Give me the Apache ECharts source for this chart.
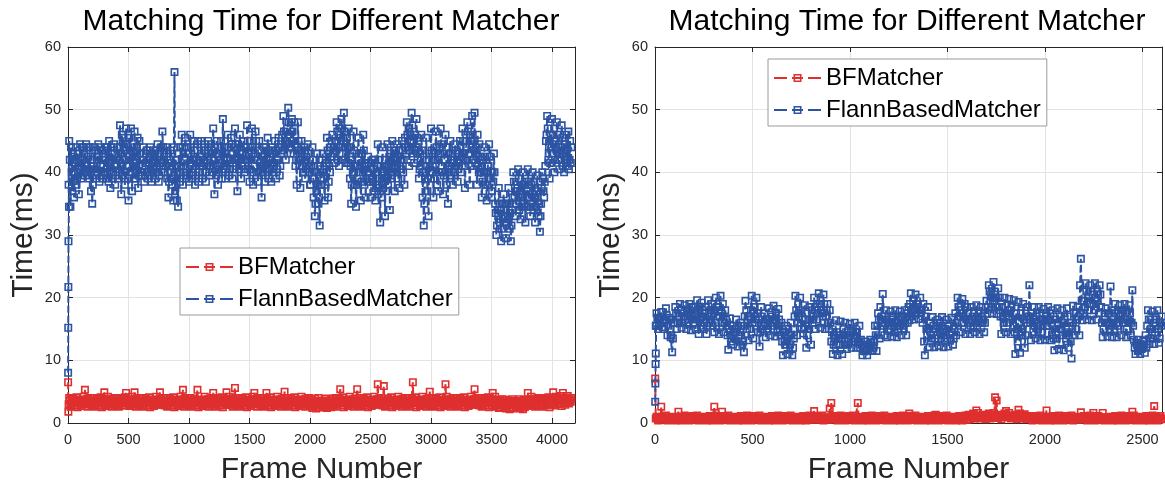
<!DOCTYPE html>
<html>
<head>
<meta charset="utf-8">
<script src="https://cdn.jsdelivr.net/npm/echarts@6/dist/echarts.min.js"></script>
<style>
  html, body { margin: 0; padding: 0; background: #fff; }
  #main { width: 1165px; height: 487px; }
</style>
</head>
<body>
<div id="main"></div>
<script>
// sample spacing (frames) used when reading the dense traces off the figure;
// the "Mid" lists are read half a step later than the main lists
const LEFT_STEP = 10
const RIGHT_STEP = 8

// left panel: start-up frames, then one value every LEFT_STEP frames
const leftStartFrames = [1, 2, 3, 4, 8]
const leftFlannStart = [8.0, 15.2, 21.7, 29.0, 34.5]
const leftBFStartFrames = [1, 3]
const leftBFStart = [6.5, 1.8]

// one row = 100 frames
const leftFlann = [
  45, 34.5, 40, 43, 36, 41, 38, 43, 36.5, 44.5,
  39, 42, 44, 40, 44.5, 39.5, 42.5, 44, 37, 35,
  41, 44, 39, 42.5, 44.5, 38.5, 41, 43.5, 39, 42,
  44, 39, 41.5, 45, 37.5, 40, 43, 44.5, 38, 41,
  44, 39, 47.5, 36.5, 42, 45.5, 38, 47, 41, 35.5,
  43, 47, 37, 41, 46.5, 39, 44, 37.5, 45, 40,
  42, 44, 38.5, 41, 43.5, 39, 42, 44, 38.5, 41.5,
  43.5, 39, 41, 44.5, 38.5, 42, 44, 46.5, 41, 40,
  44, 39, 36, 41, 43.5, 38, 35.5, 56, 42, 35.5,
  34.5, 40, 44, 46, 38, 42, 45.5, 39, 43, 38.5,
  46, 39, 42, 45, 38, 41, 44.5, 38.5, 42.5, 45,
  39, 42, 44.5, 38.5, 41, 45, 39.5, 43, 40, 47,
  36.5, 41, 45, 38, 42, 44, 39, 48.5, 41, 39,
  43, 46, 39.5, 42, 45.5, 39, 44, 47, 41, 37,
  42, 46, 39, 43, 45, 40, 44, 47.5, 41, 38.5,
  44, 47, 38, 42, 46.5, 40, 38.5, 45, 41, 36,
  40, 44, 38.5, 42, 45.5, 39, 43, 38.5, 44, 41,
  45, 39, 42, 45.5, 39.5, 43, 46, 49, 44, 42,
  47, 50.3, 44, 43, 48.5, 45, 48, 41, 38, 48,
  42, 37.5, 45, 41, 44, 39, 42.5, 44.5, 40, 38,
  41, 44, 36, 33, 40, 43, 35, 31.5, 38, 42,
  39, 35.5, 42, 45.5, 36, 41, 44, 45, 43, 41.5,
  45, 48, 42, 41, 46, 48.5, 44, 49.5, 42, 41.5,
  44, 47, 39, 35, 42, 46.5, 38, 34.5, 41, 45.5,
  40, 35.5, 43, 46, 38, 36, 41, 42.5, 38.5, 36,
  39, 42, 37, 35.5, 40, 44.5, 38, 32, 36, 44,
  40, 33, 37, 44.5, 41, 34, 39, 45, 42, 37,
  41, 44.5, 39, 37.5, 42, 45, 40, 38, 44, 48,
  44, 41, 46, 49.5, 43, 41.5, 46, 48.5, 42, 39,
  43, 46, 36, 31.5, 39, 45.5, 37, 33, 41, 47,
  40, 36, 43, 46.5, 38, 37, 44, 47, 41, 36.5,
  42, 46, 38, 35, 41, 45, 39.5, 38, 42, 44.5,
  41, 38.5, 43, 45, 40, 47, 42, 37.5, 44, 48,
  43, 38, 45, 49, 42, 49.5, 44, 38, 41, 44.5,
  40, 36, 42, 44, 38, 35.5, 41, 44.5, 39, 36,
  40, 43, 35, 30, 34, 37.5, 32, 29, 35, 36.5,
  32, 29.5, 35, 37.5, 31, 29, 34, 40, 36, 33,
  37, 40.5, 34, 32.5, 38, 40, 35, 32, 37, 40.5,
  36, 33, 38, 40, 34, 32, 37, 39.5, 33, 30.5,
  35, 40, 37, 38.5, 45, 49, 42, 39, 46, 48.5,
  43, 40, 45, 48, 42, 40.5, 44, 47.5, 41, 40,
  43, 46, 41, 40.5, 45, 44
]

const leftFlannMid = [
  38, 42, 44, 37, 42.5, 39, 44, 39, 42, 40,
  41.5, 44, 39.5, 43, 40.5, 44, 40, 39, 42, 41,
  38, 40.5, 43.5, 39.5, 40, 42.5, 44, 39.5, 42, 40,
  40, 43.5, 44, 38.5, 42, 44, 39, 40, 43, 39.5,
  41, 42.5, 44, 41, 46, 39.5, 44, 40, 44.5, 39,
  45.5, 40, 43.5, 44, 39, 42.5, 41, 45.5, 39.5, 43,
  39.5, 41, 43, 39.5, 41.5, 43.5, 40, 39.5, 42.5, 43,
  40, 42.5, 43.5, 40, 43, 39.5, 41.5, 42, 44, 42.5,
  41, 43, 40, 38.5, 42, 41.5, 39, 44, 37, 41,
  40, 43, 38.5, 41, 44, 40, 42, 44, 39.5, 43,
  41, 44, 40.5, 42, 43.5, 39.5, 42, 45, 40, 41.5,
  43, 40, 41.5, 43.5, 40, 42.5, 44, 41, 44.5, 43,
  42, 44, 39.5, 43, 40, 41.5, 45, 43, 40.5, 44,
  41, 42, 44, 40.5, 42, 44.5, 40.5, 42, 44.5, 42,
  44.5, 40.5, 43, 41, 42, 44, 40.5, 42, 45, 43,
  40.5, 42.5, 44, 40, 43, 45, 42, 40, 43.5, 40,
  42.5, 40.5, 43, 44, 40.5, 43.5, 40.5, 42, 40.5, 43.5,
  41.5, 43.5, 40.5, 42, 44, 41, 44, 43.5, 46.5, 45,
  44.5, 46, 48, 45.5, 44, 46.5, 43, 44.5, 42, 44,
  45, 41, 42, 43.5, 40, 42, 40.5, 41, 43, 41,
  38, 40, 42, 39, 35, 37, 41, 36, 40.5, 38,
  43, 40, 38, 41.5, 43.5, 38.5, 40, 42.5, 46, 44,
  43.5, 45, 46.5, 44, 43, 45, 47, 45.5, 46.5, 44,
  45.5, 41.5, 44, 41, 38, 40, 43.5, 41, 38, 42,
  43, 41, 38.5, 40, 43.5, 41, 39, 40, 41.5, 39,
  41.5, 39, 40.5, 42, 37.5, 41, 42, 38, 41, 39.5,
  37.5, 41, 42, 39, 38, 42.5, 43, 39.5, 40, 43.5,
  43, 40, 42, 43.5, 40.5, 42, 43.5, 42, 45.5, 43,
  46, 47, 43.5, 45, 47.5, 45, 43.5, 44, 45.5, 44,
  40.5, 41, 43.5, 40, 35, 41, 42, 39, 43, 40,
  43.5, 41, 39, 42, 44, 42, 40, 43, 44.5, 40,
  39.5, 42, 44, 40, 43, 41, 43, 41.5, 40, 41,
  43.5, 42, 40.5, 42, 44, 42.5, 45, 43, 41, 45,
  46.5, 43, 41, 44.5, 46, 45, 41.5, 43, 46, 40,
  42.5, 40, 38.5, 40, 42.5, 40, 38, 41, 42.5, 40,
  37, 38.5, 40, 33.5, 31.5, 33, 35, 34, 31, 33,
  35, 33, 31.5, 33, 35, 33.5, 31.5, 36, 38.5, 37,
  35, 37.5, 39, 36, 34.5, 36.5, 38, 38.5, 34.5, 36,
  38.5, 36, 34.5, 36.5, 38.5, 36, 34.5, 36, 37.5, 35,
  33, 37.5, 39, 36, 41, 46, 47, 44, 41.5, 44,
  46, 44.5, 42, 44, 46, 44, 42, 43.5, 45.5, 43,
  44.5, 42.5, 44, 46.5, 42, 41.5
]

const leftBF = [
  4.0, 2.6, 3.3, 3.9, 2.8, 3.5, 4.1, 2.5, 3.2, 3.7,
  2.7, 3.6, 4.2, 5.3, 3.4, 2.6, 3.9, 3.1, 4.0, 2.8,
  4.0, 2.6, 3.3, 3.9, 2.8, 3.5, 4.1, 2.5, 3.2, 4.9,
  2.7, 3.6, 4.2, 2.9, 3.4, 2.6, 3.9, 3.1, 4.0, 2.8,
  4.0, 2.6, 3.3, 3.9, 2.8, 3.5, 4.1, 4.8, 3.2, 3.7,
  2.7, 3.6, 4.2, 2.9, 4.9, 2.6, 3.9, 3.1, 4.0, 2.8,
  4.0, 2.6, 3.3, 3.9, 2.8, 3.5, 4.1, 2.5, 3.2, 3.7,
  2.7, 3.6, 4.2, 2.9, 3.4, 4.9, 3.9, 3.1, 4.0, 2.8,
  4.0, 2.6, 3.3, 3.9, 2.8, 3.5, 4.1, 2.5, 3.2, 3.7,
  2.7, 3.6, 4.2, 2.9, 5.3, 2.6, 3.9, 3.1, 4.0, 2.8,
  4.0, 2.6, 3.3, 3.9, 2.8, 3.5, 5.3, 2.5, 3.2, 3.7,
  2.7, 3.6, 4.2, 2.9, 3.4, 2.6, 3.9, 3.1, 4.0, 4.8,
  4.0, 2.6, 3.3, 3.9, 2.8, 3.5, 4.1, 2.5, 3.2, 3.7,
  4.9, 3.6, 4.2, 2.9, 3.4, 2.6, 3.9, 5.6, 4.0, 2.8,
  4.0, 2.6, 3.3, 3.9, 2.8, 3.5, 4.1, 2.5, 3.2, 3.7,
  2.7, 3.6, 4.2, 4.8, 3.4, 2.6, 3.9, 3.1, 4.0, 2.8,
  4.0, 2.6, 3.3, 4.8, 2.8, 3.5, 4.1, 2.5, 3.2, 3.7,
  2.7, 3.6, 4.2, 2.9, 3.4, 2.6, 3.9, 3.1, 5.0, 2.8,
  4.0, 2.6, 3.3, 3.9, 2.8, 3.5, 4.1, 2.5, 3.2, 3.7,
  2.7, 3.6, 4.2, 2.9, 3.4, 2.6, 3.9, 3.1, 4.0, 2.8,
  3.8, 2.4, 3.1, 3.9, 2.3, 3.4, 4.0, 2.5, 3.0, 3.6,
  2.5, 3.5, 3.9, 2.4, 3.2, 2.6, 3.8, 3.0, 3.9, 2.7,
  4.0, 2.6, 3.3, 3.9, 5.4, 3.5, 4.1, 2.5, 3.2, 3.7,
  2.7, 3.6, 4.2, 2.9, 3.4, 2.6, 3.9, 3.1, 5.4, 2.8,
  4.0, 2.6, 3.3, 3.9, 2.8, 3.5, 4.1, 2.5, 3.2, 3.7,
  2.7, 3.6, 4.2, 2.9, 3.4, 6.2, 3.9, 3.1, 4.0, 2.8,
  5.9, 2.6, 3.3, 3.9, 2.8, 3.5, 4.1, 2.5, 3.2, 3.7,
  2.7, 3.6, 4.2, 2.9, 3.4, 2.6, 3.9, 3.1, 4.0, 2.8,
  4.0, 2.6, 3.3, 3.9, 6.5, 3.5, 4.1, 2.5, 3.2, 3.7,
  2.7, 3.6, 4.2, 2.9, 3.4, 2.6, 3.9, 3.1, 5.0, 2.8,
  4.0, 2.6, 3.3, 3.9, 2.8, 3.5, 4.1, 2.5, 3.2, 3.7,
  2.7, 6.2, 4.2, 2.9, 3.4, 2.6, 3.9, 3.1, 4.0, 2.8,
  4.0, 2.6, 3.3, 3.9, 2.8, 3.5, 4.1, 2.5, 3.2, 3.7,
  2.7, 3.6, 4.2, 2.9, 3.4, 5.4, 3.9, 3.1, 4.0, 2.8,
  4.0, 2.6, 3.3, 3.9, 2.8, 3.5, 4.1, 2.5, 3.2, 3.7,
  4.8, 3.6, 4.2, 2.9, 3.2, 2.4, 3.7, 2.9, 3.8, 2.5,
  3.7, 2.3, 3.0, 3.6, 2.2, 3.3, 3.8, 2.3, 2.9, 3.5,
  2.4, 3.4, 3.8, 2.3, 3.1, 2.2, 3.7, 2.8, 3.6, 4.8,
  2.7, 3.6, 4.2, 2.9, 3.4, 2.6, 3.9, 3.1, 4.0, 2.8,
  4.0, 2.6, 3.3, 3.9, 2.8, 3.5, 4.1, 2.5, 3.2, 3.7,
  4.9, 2.8, 3.5, 4.2, 3.0, 3.7, 4.3, 2.7, 4.8, 3.9,
  2.9, 3.8, 4.3, 3.1, 3.6, 4.0
]

const leftBFMid = [
  3.0, 3.6, 2.9, 3.4, 3.8, 3.1, 3.5, 2.8, 3.7, 3.2,
  3.4, 2.9, 3.7, 3.2, 3.0, 3.8, 3.3, 3.6, 2.9, 3.5,
  3.0, 3.6, 2.9, 3.4, 3.8, 3.1, 3.5, 2.8, 3.7, 3.2,
  3.4, 2.9, 3.7, 3.2, 3.0, 3.8, 3.3, 3.6, 2.9, 3.5,
  3.0, 3.6, 2.9, 3.4, 3.8, 3.1, 3.5, 2.8, 3.7, 3.2,
  3.4, 2.9, 3.7, 3.2, 3.0, 3.8, 3.3, 3.6, 2.9, 3.5,
  3.0, 3.6, 2.9, 3.4, 3.8, 3.1, 3.5, 2.8, 3.7, 3.2,
  3.4, 2.9, 3.7, 3.2, 3.0, 3.8, 3.3, 3.6, 2.9, 3.5,
  3.0, 3.6, 2.9, 3.4, 3.8, 3.1, 3.5, 2.8, 3.7, 3.2,
  3.4, 2.9, 3.7, 3.2, 3.0, 3.8, 3.3, 3.6, 2.9, 3.5,
  3.0, 3.6, 2.9, 3.4, 3.8, 3.1, 3.5, 2.8, 3.7, 3.2,
  3.4, 2.9, 3.7, 3.2, 3.0, 3.8, 3.3, 3.6, 2.9, 3.5,
  3.0, 3.6, 2.9, 3.4, 3.8, 3.1, 3.5, 2.8, 3.7, 3.2,
  3.4, 2.9, 3.7, 3.2, 3.0, 3.8, 3.3, 3.6, 2.9, 3.5,
  3.0, 3.6, 2.9, 3.4, 3.8, 3.1, 3.5, 2.8, 3.7, 3.2,
  3.4, 2.9, 3.7, 3.2, 3.0, 3.8, 3.3, 3.6, 2.9, 3.5,
  3.0, 3.6, 2.9, 3.4, 3.8, 3.1, 3.5, 2.8, 3.7, 3.2,
  3.4, 2.9, 3.7, 3.2, 3.0, 3.8, 3.3, 3.6, 2.9, 3.5,
  3.0, 3.6, 2.9, 3.4, 3.8, 3.1, 3.5, 2.8, 3.7, 3.2,
  3.4, 2.9, 3.7, 3.2, 3.0, 3.8, 3.3, 3.6, 2.9, 3.5,
  2.8, 3.3, 2.6, 3.1, 3.5, 2.8, 3.2, 2.5, 3.4, 2.9,
  2.8, 3.3, 2.6, 3.1, 3.5, 2.8, 3.2, 2.5, 3.4, 2.9,
  3.0, 3.6, 2.9, 3.4, 3.8, 3.1, 3.5, 2.8, 3.7, 3.2,
  3.4, 2.9, 3.7, 3.2, 3.0, 3.8, 3.3, 3.6, 2.9, 3.5,
  3.0, 3.6, 2.9, 3.4, 3.8, 3.1, 3.5, 2.8, 3.7, 3.2,
  3.4, 2.9, 3.7, 3.2, 3.0, 3.8, 3.3, 3.6, 2.9, 3.5,
  3.0, 3.6, 2.9, 3.4, 3.8, 3.1, 3.5, 2.8, 3.7, 3.2,
  3.4, 2.9, 3.7, 3.2, 3.0, 3.8, 3.3, 3.6, 2.9, 3.5,
  3.0, 3.6, 2.9, 3.4, 3.8, 3.1, 3.5, 2.8, 3.7, 3.2,
  3.4, 2.9, 3.7, 3.2, 3.0, 3.8, 3.3, 3.6, 2.9, 3.5,
  3.0, 3.6, 2.9, 3.4, 3.8, 3.1, 3.5, 2.8, 3.7, 3.2,
  3.4, 2.9, 3.7, 3.2, 3.0, 3.8, 3.3, 3.6, 2.9, 3.5,
  3.0, 3.6, 2.9, 3.4, 3.8, 3.1, 3.5, 2.8, 3.7, 3.2,
  3.4, 2.9, 3.7, 3.2, 3.0, 3.8, 3.3, 3.6, 2.9, 3.5,
  3.0, 3.6, 2.9, 3.4, 3.8, 3.1, 3.5, 2.8, 3.7, 3.2,
  2.8, 3.3, 2.6, 3.1, 3.5, 2.8, 3.2, 2.5, 3.4, 2.9,
  2.8, 3.3, 2.6, 3.1, 3.5, 2.8, 3.2, 2.5, 3.4, 2.9,
  2.8, 3.3, 2.6, 3.1, 3.5, 2.8, 3.2, 2.5, 3.4, 2.9,
  3.0, 3.6, 2.9, 3.4, 3.8, 3.1, 3.5, 2.8, 3.7, 3.2,
  3.4, 2.9, 3.7, 3.2, 3.0, 3.8, 3.3, 3.6, 2.9, 3.5,
  3.4, 3.9, 3.2, 3.7, 4.0, 3.4, 3.8, 3.1, 3.9, 3.5,
  3.4, 3.9, 3.2, 3.7, 4.0, 3.4
]

// right panel: start-up frames, then one value every RIGHT_STEP frames
const rightStartFrames = [1, 2, 3, 4, 6]
const rightFlannStart = [3.4, 6.3, 9.4, 11.1, 15.5]
const rightBFStartFrames = [1]
const rightBFStart = [7.1]

// one row = 80 frames
const rightFlann = [
  17.5, 15, 16.5, 17.7, 15.3, 16, 18.3, 14, 16.8, 13.7,
  11.3, 16, 18.5, 15, 17, 19, 15.2, 17.5, 18.8, 15,
  16.5, 19, 14.8, 17, 18.5, 15, 19.6, 14.2, 16.8, 19.2,
  15, 17.5, 14.2, 19.6, 16, 18, 15.5, 14.5, 20, 17,
  14.2, 20.3, 16, 14.5, 18, 15.5, 11.7, 16.7, 13, 12.5,
  15, 16.5, 12.2, 14, 16, 12.5, 11.3, 19.5, 15, 13.2,
  17, 20.3, 13.5, 16, 20, 14.5, 12.2, 18.5, 15, 17.5,
  13.7, 16.5, 18.3, 14, 17, 18.7, 13.8, 16, 18.2, 14.5,
  16, 10.8, 13, 15.5, 11, 14, 16, 10.8, 13.5, 20.3,
  14, 17, 20, 15, 14.3, 18.8, 12, 15.5, 18.5, 12.5,
  16, 20, 15, 18, 20.7, 15.2, 17.5, 20.5, 15, 18,
  16, 18, 13, 11, 14, 16.4, 10.8, 13.5, 16.2, 11,
  14, 16, 11.8, 13.5, 15.8, 12, 14.5, 16, 12, 13,
  15.5, 13.3, 10.8, 12, 13, 10.8, 12.5, 13.3, 11.5, 12,
  15.5, 11.5, 17.5, 13.5, 16, 20.6, 14, 18, 13.7, 16,
  17.8, 13.8, 15.5, 18, 13.7, 16.5, 17.8, 14, 15.5, 18,
  14, 16, 16.4, 20.7, 18, 16.5, 20.5, 18.5, 16.6, 20,
  18, 19, 10.8, 15, 18.5, 12.1, 14, 16.9, 12.1, 15,
  16.5, 12.3, 14.5, 16.9, 12.1, 15, 16.5, 12.2, 14, 16.8,
  12.5, 15, 14, 20, 17, 14.5, 19.8, 16, 14.2, 18.5,
  16, 14.2, 18.5, 15.5, 14.5, 18.8, 16.5, 14.2, 18.5, 16,
  14.5, 18.5, 17.4, 22, 19.5, 17.5, 22.5, 20, 17.4, 21.5,
  20, 14.2, 17, 20, 14.5, 18, 19.8, 14.2, 16.5, 19.6,
  11, 15, 19.3, 11.2, 14.5, 19, 12, 16.5, 18.5, 22,
  13.2, 16, 18.5, 13.5, 15.5, 18.5, 13.2, 16.5, 18.2, 13.3,
  15.5, 18.5, 13.2, 16, 18, 11.6, 14.5, 18.3, 11.8, 15,
  18, 11.6, 14.5, 18.3, 12, 16, 10.3, 18.7, 14, 16.5,
  18.5, 14, 26.2, 16.4, 19.5, 22.3, 16.5, 20, 22, 16.4,
  19, 22.3, 16.5, 20.5, 22, 18.5, 13.7, 16.5, 18.3, 13.8,
  15.5, 21.8, 13.7, 16.5, 19, 13.7, 17, 18.8, 14, 16,
  19, 13.7, 16.5, 18.8, 14, 21.2, 13.3, 11, 12.5, 13.3,
  11, 12.5, 13.2, 11.2, 12, 18, 12.6, 15, 17.8, 12.6,
  15.5, 18, 12.8, 16, 17
]

const rightFlannMid = [
  15.5, 16.8, 15.5, 16, 17, 15, 16.5, 17.2, 15.5, 16.5,
  14, 13.5, 16, 17.5, 16, 17, 18, 16, 17, 16.5,
  18, 16, 17.5, 18.5, 16, 17.5, 16.5, 18, 18.5, 15.5,
  18, 16, 18.5, 15.5, 17.5, 16.5, 19, 18, 16, 18.5,
  18.5, 17, 18, 19, 16, 16.5, 14, 15, 14, 15.5,
  13.5, 14.5, 15.5, 13.5, 14.5, 15.5, 13, 17, 18, 16.5,
  15, 18, 16, 18.5, 16.5, 17.5, 16.5, 14.5, 17, 15.5,
  16, 15, 15.5, 16.5, 15.5, 16, 16.5, 17.5, 15, 16.5,
  14, 13, 14.5, 12.5, 13.5, 15, 12.5, 14, 12, 17,
  18, 16, 17.5, 18, 16.5, 15, 16.5, 14, 15, 16.5,
  18, 17, 18.5, 16.5, 17.5, 19, 18, 17, 19, 17,
  19, 15, 16, 14.5, 12.5, 13.5, 14.5, 12.5, 14, 13.5,
  12.5, 13.5, 14.5, 12.5, 14, 14.5, 13, 13.5, 14.5, 14.5,
  13, 12, 12.5, 11.5, 12, 12.5, 11.5, 12, 12.8, 11.5,
  13, 14, 15.5, 16.5, 18.5, 17, 15.5, 16, 16.5, 15,
  15.5, 16.5, 17, 14.5, 16, 15, 15.5, 16.5, 17, 15,
  16, 17.5, 18.5, 19, 17, 19.5, 18, 17.5, 19, 18,
  17.5, 16, 13, 17, 14, 15, 16, 13.5, 15.5, 13.5,
  14, 15.5, 16, 13.5, 14.5, 13.5, 14, 15.5, 15.5, 13.5,
  14.5, 13.5, 17.5, 16, 18.5, 18, 16, 17.5, 19, 16.5,
  17.5, 16.5, 15.5, 17, 17.5, 16, 15.5, 17.5, 16, 17,
  16.5, 16, 19.5, 18.5, 21, 20.5, 19, 21, 20, 18.5,
  18.5, 17, 18.5, 16, 17.5, 16, 17, 18, 18.5, 15.5,
  14.5, 17.5, 13, 16, 17.5, 14, 16.5, 14, 16, 17,
  16, 17.5, 14.5, 16.5, 17, 15, 17.5, 14.5, 15.5, 16.5,
  17, 15.5, 16.5, 17.5, 14, 13.5, 16.5, 13.5, 16, 17,
  15, 14, 16.5, 13.5, 17, 14, 13, 15.5, 17.5, 15,
  16.5, 17, 22, 19.5, 17.5, 18.5, 21, 18, 19, 21,
  20.5, 18, 19, 21, 17.5, 20.5, 16, 15, 17, 16,
  17.5, 15, 18, 16, 15, 17.5, 15.5, 16, 17.5, 18,
  16.5, 17.5, 15, 16, 17.5, 16, 15.5, 12, 12.8, 11.5,
  12.2, 11.8, 12, 12.5, 14, 15.5, 16.5, 13.5, 14.5, 16,
  14, 16.5, 15, 13.5, 15.5
]

const rightBF = [
  1.0, 0.4, 0.7, 2.6, 0.5, 0.8, 1.2, 0.4, 0.9, 0.6,
  0.5, 1.0, 0.4, 0.8, 1.8, 0.6, 0.4, 0.9, 1.2, 0.5,
  1.0, 0.4, 0.7, 1.1, 0.5, 0.8, 1.2, 0.4, 0.9, 0.6,
  0.5, 1.0, 0.4, 0.8, 1.1, 0.6, 0.4, 2.6, 1.2, 0.5,
  1.0, 0.4, 1.8, 1.1, 0.5, 0.8, 1.2, 0.4, 0.9, 0.6,
  0.5, 1.0, 0.4, 0.8, 1.1, 0.6, 0.4, 0.9, 1.2, 0.5,
  1.0, 0.4, 0.7, 1.1, 0.5, 0.8, 1.2, 0.4, 0.9, 0.6,
  0.5, 1.0, 0.4, 0.8, 1.1, 0.6, 0.4, 0.9, 1.2, 0.5,
  1.0, 0.4, 0.7, 1.1, 0.5, 0.8, 1.2, 0.4, 0.9, 0.6,
  0.5, 1.0, 0.4, 0.8, 1.1, 0.6, 0.4, 0.9, 1.2, 0.5,
  1.0, 1.9, 0.7, 1.1, 0.5, 0.8, 1.2, 0.4, 0.9, 0.6,
  0.5, 2.3, 3.2, 0.8, 1.1, 0.6, 0.4, 0.9, 1.2, 0.5,
  1.0, 0.4, 0.7, 1.1, 0.5, 0.8, 1.2, 0.4, 0.9, 3.2,
  0.5, 1.0, 0.4, 0.8, 1.1, 0.6, 0.4, 0.9, 1.2, 0.5,
  1.0, 0.4, 0.7, 1.1, 0.5, 0.8, 1.2, 0.4, 0.9, 0.6,
  0.5, 1.0, 0.4, 0.8, 1.1, 0.6, 0.4, 0.9, 1.2, 0.5,
  1.0, 0.4, 1.5, 1.1, 0.5, 0.8, 1.2, 0.4, 0.9, 0.6,
  0.5, 1.0, 0.4, 0.8, 1.1, 0.6, 0.4, 0.9, 1.2, 1.3,
  1.0, 0.4, 0.7, 1.1, 0.5, 0.8, 1.2, 0.4, 0.9, 0.6,
  0.5, 1.0, 0.4, 0.8, 1.1, 0.6, 0.4, 0.9, 1.2, 0.5,
  1.3, 0.6, 1.0, 1.5, 0.7, 2.0, 1.6, 0.7, 1.1, 0.8,
  1.3, 0.6, 1.0, 1.5, 0.7, 1.2, 1.6, 4.1, 3.6, 0.8,
  1.3, 0.6, 1.0, 1.5, 1.9, 1.2, 1.6, 0.7, 1.1, 0.8,
  1.3, 0.6, 2.1, 1.5, 0.7, 1.2, 1.4, 0.6, 1.1, 0.7,
  1.0, 0.4, 0.7, 1.1, 0.5, 0.8, 1.2, 0.4, 0.9, 0.6,
  2.0, 1.0, 0.4, 0.8, 1.1, 0.6, 0.4, 0.9, 1.2, 0.5,
  1.0, 0.4, 0.7, 1.1, 0.5, 0.8, 1.2, 0.4, 0.9, 0.6,
  0.5, 1.0, 1.7, 0.8, 1.1, 0.6, 0.4, 0.9, 1.2, 0.5,
  1.6, 0.4, 0.7, 1.1, 0.5, 0.8, 1.6, 0.4, 0.9, 0.6,
  0.5, 1.0, 0.4, 0.8, 1.1, 0.6, 0.4, 0.9, 1.2, 0.5,
  1.0, 0.4, 0.7, 1.1, 0.5, 1.8, 1.2, 0.4, 0.9, 0.6,
  0.5, 1.0, 0.4, 0.8, 1.1, 0.6, 0.4, 0.9, 1.2, 2.7,
  1.0, 0.4, 0.8, 1.1, 0.6
]

const rightBFMid = [
  0.7, 0.9, 0.6, 0.8, 1.0, 0.7, 0.9, 0.6, 0.8, 0.7,
  0.8, 0.6, 0.9, 0.7, 0.6, 1.0, 0.8, 0.7, 0.9, 0.6,
  0.7, 0.9, 0.6, 0.8, 1.0, 0.7, 0.9, 0.6, 0.8, 0.7,
  0.8, 0.6, 0.9, 0.7, 0.6, 1.0, 0.8, 0.7, 0.9, 0.6,
  0.7, 0.9, 0.6, 0.8, 1.0, 0.7, 0.9, 0.6, 0.8, 0.7,
  0.8, 0.6, 0.9, 0.7, 0.6, 1.0, 0.8, 0.7, 0.9, 0.6,
  0.7, 0.9, 0.6, 0.8, 1.0, 0.7, 0.9, 0.6, 0.8, 0.7,
  0.8, 0.6, 0.9, 0.7, 0.6, 1.0, 0.8, 0.7, 0.9, 0.6,
  0.7, 0.9, 0.6, 0.8, 1.0, 0.7, 0.9, 0.6, 0.8, 0.7,
  0.8, 0.6, 0.9, 0.7, 0.6, 1.0, 0.8, 0.7, 0.9, 0.6,
  0.7, 0.9, 0.6, 0.8, 1.0, 0.7, 0.9, 0.6, 0.8, 0.7,
  0.8, 0.6, 0.9, 0.7, 0.6, 1.0, 0.8, 0.7, 0.9, 0.6,
  0.7, 0.9, 0.6, 0.8, 1.0, 0.7, 0.9, 0.6, 0.8, 0.7,
  0.8, 0.6, 0.9, 0.7, 0.6, 1.0, 0.8, 0.7, 0.9, 0.6,
  0.7, 0.9, 0.6, 0.8, 1.0, 0.7, 0.9, 0.6, 0.8, 0.7,
  0.8, 0.6, 0.9, 0.7, 0.6, 1.0, 0.8, 0.7, 0.9, 0.6,
  0.7, 0.9, 0.6, 0.8, 1.0, 0.7, 0.9, 0.6, 0.8, 0.7,
  0.8, 0.6, 0.9, 0.7, 0.6, 1.0, 0.8, 0.7, 0.9, 0.6,
  0.7, 0.9, 0.6, 0.8, 1.0, 0.7, 0.9, 0.6, 0.8, 0.7,
  0.8, 0.6, 0.9, 0.7, 0.6, 1.0, 0.8, 0.7, 0.9, 0.6,
  1.0, 1.2, 0.9, 1.1, 1.3, 1.0, 1.2, 0.9, 1.1, 1.0,
  1.0, 1.2, 0.9, 1.1, 1.3, 1.0, 1.2, 0.9, 1.1, 1.0,
  1.0, 1.2, 0.9, 1.1, 1.3, 1.0, 1.2, 0.9, 1.1, 1.0,
  1.0, 1.2, 0.9, 1.1, 1.3, 1.0, 1.2, 0.9, 1.1, 1.0,
  0.7, 0.9, 0.6, 0.8, 1.0, 0.7, 0.9, 0.6, 0.8, 0.7,
  0.8, 0.6, 0.9, 0.7, 0.6, 1.0, 0.8, 0.7, 0.9, 0.6,
  0.7, 0.9, 0.6, 0.8, 1.0, 0.7, 0.9, 0.6, 0.8, 0.7,
  0.8, 0.6, 0.9, 0.7, 0.6, 1.0, 0.8, 0.7, 0.9, 0.6,
  0.7, 0.9, 0.6, 0.8, 1.0, 0.7, 0.9, 0.6, 0.8, 0.7,
  0.8, 0.6, 0.9, 0.7, 0.6, 1.0, 0.8, 0.7, 0.9, 0.6,
  0.7, 0.9, 0.6, 0.8, 1.0, 0.7, 0.9, 0.6, 0.8, 0.7,
  0.8, 0.6, 0.9, 0.7, 0.6, 1.0, 0.8, 0.7, 0.9, 0.6,
  0.7, 0.9, 0.6, 0.8, 0.7
]

const xTicksLeft = { max: 4190, interval: 500 }
const xTicksRight = { max: 2600, interval: 500 }
const yTicks = { min: 0, max: 60, interval: 10 }

const RED = '#df2f2f'
const BLUE = '#2c54a3'
const INK = '#262626'
const FONT = '"Liberation Sans", Arial, Helvetica, sans-serif'
// hollow square marker
const SQUARE = 'path://M0,0H20V20H0Z M4,4V16H16V4Z'

// start-up points, main samples at k*step and mid samples at (k-0.5)*step, in frame order
function toPoints(startFrames, startValues, values, mids, step) {
  const pts = startFrames.map((f, i) => [f, startValues[i]])
  values.forEach((v, i) => {
    if (i < mids.length) pts.push([(i + 0.5) * step, mids[i]])
    pts.push([(i + 1) * step, v])
  })
  return pts
}

function xAxes(gridIndex, ticks) {
  const base = {
    type: 'value',
    gridIndex,
    min: 0,
    max: ticks.max,
    interval: ticks.interval,
    axisLine: { show: true, onZero: false, lineStyle: { color: INK, width: 1 } },
    axisTick: { show: true, inside: true, length: 5, lineStyle: { color: INK } }
  }
  return [
    {
      ...base,
      position: 'bottom',
      name: 'Frame Number',
      nameLocation: 'middle',
      nameGap: 32,
      nameTextStyle: { fontSize: 30, color: INK, fontFamily: FONT },
      axisLabel: {
        fontSize: 14.5, color: INK, margin: 9, fontFamily: FONT,
        formatter: v => (v % ticks.interval === 0 ? String(v) : '')
      },
      splitLine: { show: true, lineStyle: { color: '#e3e3e3', width: 1 } }
    },
    { ...base, position: 'top', axisLabel: { show: false }, splitLine: { show: false } }
  ]
}

function yAxes(gridIndex) {
  const base = {
    type: 'value',
    gridIndex,
    min: yTicks.min,
    max: yTicks.max,
    interval: yTicks.interval,
    axisLine: { show: true, onZero: false, lineStyle: { color: INK, width: 1 } },
    axisTick: { show: true, inside: true, length: 5, lineStyle: { color: INK } }
  }
  return [
    {
      ...base,
      position: 'left',
      name: 'Time(ms)',
      nameLocation: 'middle',
      nameGap: 29,
      nameTextStyle: { fontSize: 30, color: INK, fontFamily: FONT },
      axisLabel: { fontSize: 14.5, color: INK, margin: 7, fontFamily: FONT },
      splitLine: { show: true, lineStyle: { color: '#e3e3e3', width: 1 } }
    },
    { ...base, position: 'right', axisLabel: { show: false }, splitLine: { show: false } }
  ]
}

function lineSeries(name, color, data, xi, yi) {
  return {
    name,
    type: 'line',
    xAxisIndex: xi,
    yAxisIndex: yi,
    data,
    symbol: SQUARE,
    symbolSize: 8,
    showAllSymbol: true,
    lineStyle: { color, width: 2, type: [7, 3] },
    itemStyle: { color },
    emphasis: { disabled: true },
    silent: true,
    animation: false
  }
}

function legendAt(left, top) {
  return {
    left,
    top,
    orient: 'vertical',
    data: ['BFMatcher', 'FlannBasedMatcher'],
    backgroundColor: '#fff',
    borderColor: '#9a9a9a',
    borderWidth: 1,
    borderRadius: 0,
    padding: [7, 6, 4, 5],
    itemWidth: 47,
    itemHeight: 10,
    itemGap: 8,
    lineStyle: { type: [13, 5, 11, 5, 13, 0] },
    selectedMode: false,
    textStyle: { fontSize: 24, lineHeight: 24, color: '#000', fontFamily: FONT }
  }
}

const chart = echarts.init(document.getElementById('main'))

chart.setOption({
  backgroundColor: '#fff',
  animation: false,
  textStyle: { fontFamily: FONT },
  graphic: [
    { type: 'text', x: 321, y: 7, style: { text: 'Matching Time for Different Matcher', fontSize: 30, fill: '#000', align: 'center', fontFamily: FONT } },
    { type: 'text', x: 907, y: 7, style: { text: 'Matching Time for Different Matcher', fontSize: 30, fill: '#000', align: 'center', fontFamily: FONT } }
  ],
  grid: [
    { left: 68, top: 47, width: 507, height: 376, outerBoundsMode: 'none' },
    { left: 655, top: 47, width: 507, height: 376, outerBoundsMode: 'none' }
  ],
  xAxis: [...xAxes(0, xTicksLeft), ...xAxes(1, xTicksRight)],
  yAxis: [...yAxes(0), ...yAxes(1)],
  legend: [legendAt(180, 248), legendAt(768, 59)],
  series: [
    lineSeries('BFMatcher', RED, toPoints(leftBFStartFrames, leftBFStart, leftBF, leftBFMid, LEFT_STEP), 0, 0),
    lineSeries('FlannBasedMatcher', BLUE, toPoints(leftStartFrames, leftFlannStart, leftFlann, leftFlannMid, LEFT_STEP), 0, 0),
    lineSeries('BFMatcher', RED, toPoints(rightBFStartFrames, rightBFStart, rightBF, rightBFMid, RIGHT_STEP), 2, 2),
    lineSeries('FlannBasedMatcher', BLUE, toPoints(rightStartFrames, rightFlannStart, rightFlann, rightFlannMid, RIGHT_STEP), 2, 2)
  ]
})

window.addEventListener('resize', () => chart.resize())
</script>
</body>
</html>
